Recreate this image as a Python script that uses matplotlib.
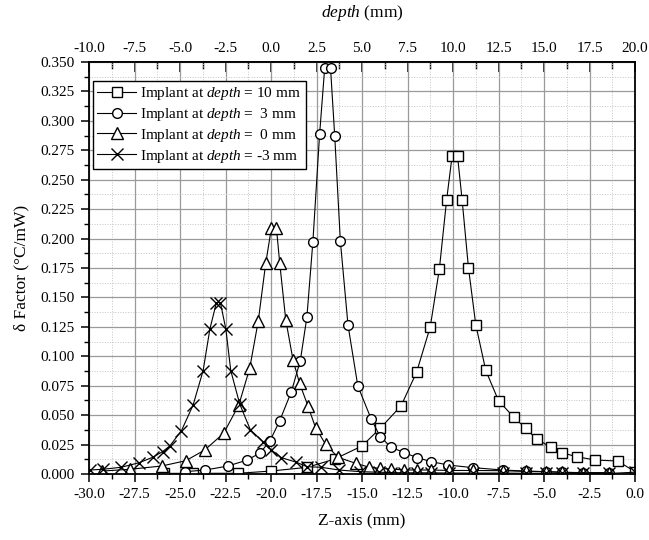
import matplotlib
matplotlib.use("Agg")
import matplotlib.pyplot as plt
from matplotlib.ticker import MultipleLocator, FormatStrFormatter

plt.rcParams['font.family'] = ['Liberation Serif', 'DejaVu Serif']
plt.rcParams['mathtext.fontset'] = 'custom'
plt.rcParams['mathtext.rm'] = 'Liberation Serif'
plt.rcParams['mathtext.it'] = 'Liberation Serif:italic'

# ---- data (Z-axis in mm, delta factor in degC/mW) ----
z_d10 = [-25.9, -24.3, -21.8, -20.0, -18.0, -16.5, -15.0, -14.0, -12.85, -12.0, -11.25,
         -10.75, -10.35, -10.05, -9.75, -9.5, -9.15, -8.75, -8.2, -7.5, -6.65, -6.0,
         -5.4, -4.6, -4.0, -3.2, -2.2, -0.95, 0.0]
v_d10 = [0.0005, 0.0006, 0.0006, 0.0025, 0.0057, 0.0127, 0.0238, 0.0388, 0.058, 0.0865,
         0.125, 0.174, 0.233, 0.27, 0.27, 0.233, 0.175, 0.127, 0.088, 0.0623, 0.048,
         0.0388, 0.0295, 0.0227, 0.018, 0.0147, 0.0119, 0.011, 0.002]

z_d3 = [-24.7, -23.6, -22.36, -21.3, -20.6, -20.05, -19.52, -18.88, -18.39, -18.03,
        -17.7, -17.33, -17.05, -16.73, -16.5, -16.19, -15.77, -15.23, -14.49, -14.0,
        -13.4, -12.67, -11.97, -11.2, -10.25, -8.92, -7.27, -6.0, -4.9, -4.0, -2.88, -1.42]
v_d3 = [0.002, 0.0034, 0.0068, 0.0119, 0.0179, 0.0283, 0.0453, 0.070, 0.0963, 0.133,
        0.197, 0.2886, 0.345, 0.345, 0.2875, 0.198, 0.1266, 0.0748, 0.0465, 0.0317,
        0.0227, 0.0181, 0.0139, 0.0105, 0.0076, 0.0054, 0.0034, 0.0025, 0.002, 0.0014,
        0.0012, 0.001]

z_d0 = [-29.3, -27.75, -26.0, -24.68, -23.64, -22.6, -21.77, -21.17, -20.7, -20.29,
        -19.98, -19.7, -19.52, -19.19, -18.79, -18.43, -17.97, -17.55, -17.0, -16.32,
        -15.35, -14.59, -14.0, -13.4, -12.67, -12.0, -11.2, -10.2, -8.92, -7.27, -6.0,
        -4.9, -4.0, -2.88, -1.42]
v_d0 = [0.0025, 0.004, 0.0068, 0.0113, 0.0204, 0.0346, 0.0586, 0.0898, 0.130, 0.179,
        0.2088, 0.2088, 0.179, 0.131, 0.0969, 0.077, 0.0578, 0.0393, 0.0252, 0.0142,
        0.0091, 0.0057, 0.0048, 0.0042, 0.0034, 0.0034, 0.0034, 0.003, 0.003, 0.0028,
        0.0022, 0.002, 0.0015, 0.001, 0.001]

z_dm3 = [-29.95, -29.25, -28.24, -27.24, -26.5, -25.96, -25.56, -24.92, -24.28, -23.73,
         -23.36, -23.0, -22.78, -22.48, -22.21, -21.72, -21.13, -20.44, -19.98, -19.43,
         -18.61, -18.02, -17.24, -16.27, -15.13, -14.04, -13.4, -12.67, -12.0, -11.2,
         -10.2, -8.92, -7.27, -6.0, -4.9, -4.0, -2.88, -1.42, 0.0]
v_dm3 = [0.0034, 0.004, 0.0057, 0.0096, 0.0142, 0.019, 0.0238, 0.0368, 0.0586, 0.0878,
         0.123, 0.1456, 0.1456, 0.123, 0.0878, 0.0595, 0.0374, 0.0275, 0.0204, 0.0139,
         0.010, 0.0062, 0.0057, 0.0034, 0.002, 0.0015, 0.0012, 0.001, 0.001, 0.001,
         0.0008, 0.0008, 0.0008, 0.0006, 0.0006, 0.0006, 0.0005, 0.0005, 0.0015]

labels = ["Implant at $depth$ = 10 mm",
          "Implant at $depth$ =  3 mm",
          "Implant at $depth$ =  0 mm",
          "Implant at $depth$ = -3 mm"]

fig = plt.figure(figsize=(6.49, 5.40), dpi=100)
ax = fig.add_axes([89/649, 1-474/540, (635-89)/649, (474-62)/540])

common = dict(color='black', lw=0.8, mfc='white', mec='black', mew=1.0)
ax.plot(z_d10, v_d10, marker='s', ms=7, label=labels[0], **common)
ax.plot(z_d3, v_d3, marker='o', ms=7, label=labels[1], **common)
ax.plot(z_d0, v_d0, marker='^', ms=8, label=labels[2], **common)
ax.plot(z_dm3, v_dm3, marker='x', ms=8.5, label=labels[3], **common)

ax.set_xlim(-30, 0)
ax.set_ylim(0, 0.35)
ax.xaxis.set_major_locator(MultipleLocator(2.5))
ax.xaxis.set_minor_locator(MultipleLocator(1.25))
ax.yaxis.set_major_locator(MultipleLocator(0.025))
ax.yaxis.set_minor_locator(MultipleLocator(0.0125))
ax.xaxis.set_major_formatter(FormatStrFormatter('%.1f'))
ax.yaxis.set_major_formatter(FormatStrFormatter('%.3f'))

ax.grid(which='major', color='#9a9a9a', lw=0.9, ls='-')
ax.grid(which='minor', color='#c4c4c4', lw=0.7, ls=':')
ax.set_axisbelow(True)

for s in ax.spines.values():
    s.set_linewidth(1.3)

ax.tick_params(axis='both', which='major', direction='out', length=6, width=1.1,
               labelsize=11, pad=4)
ax.tick_params(axis='both', which='minor', direction='out', length=3.5, width=1.0)
ax.tick_params(axis='x', which='both', top=False)
ax.tick_params(axis='y', which='both', right=False)

ax.set_xlabel("Z-axis (mm)", fontsize=12.5, labelpad=9)
ax.set_ylabel("δ Factor (°C/mW)", fontsize=12.5, labelpad=8)

sec = ax.secondary_xaxis('top', functions=(lambda z: z + 20, lambda d: d - 20))
sec.xaxis.set_major_locator(MultipleLocator(2.5))
sec.xaxis.set_minor_locator(MultipleLocator(1.25))
sec.xaxis.set_major_formatter(FormatStrFormatter('%.1f'))
sec.tick_params(which='major', direction='in', length=7, width=1.1, labelsize=11, pad=5)
sec.tick_params(which='minor', direction='in', length=5, width=1.0)
sec.spines['top'].set_linewidth(1.3)
sec.set_xlabel("$depth$ (mm)", fontsize=12.5, labelpad=18)

leg = ax.legend(loc='upper left', bbox_to_anchor=(0.007, 0.955), borderaxespad=0,
                fontsize=11, frameon=True, fancybox=False, framealpha=1,
                edgecolor='black', handlelength=2.5, handletextpad=0.3,
                labelspacing=0.25, borderpad=0.3)
leg.get_frame().set_linewidth(1.0)

fig.savefig("out.png", dpi=100)
